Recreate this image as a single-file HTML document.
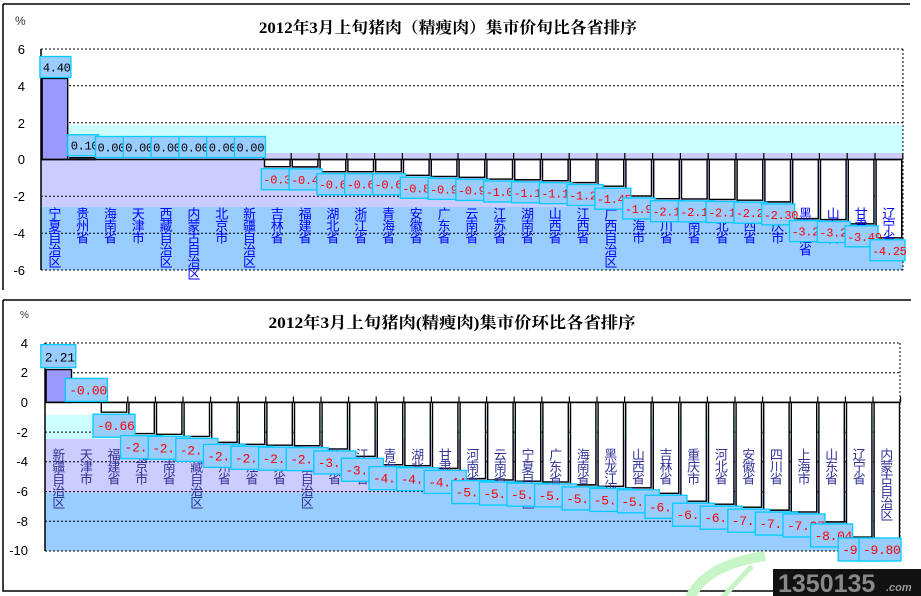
<!DOCTYPE html>
<html><head><meta charset="utf-8"><style>
body{margin:0;background:#fff;}
svg{display:block;}
.cat{font-family:"WenQuanYi Zen Hei","Noto Sans CJK SC",sans-serif;font-size:13px;writing-mode:tb;letter-spacing:-1px;}
.lb rect{fill:#99ccff;stroke:#00ccff;stroke-width:1.3;}
.lb text{font-family:"Liberation Mono",monospace;font-size:12px;letter-spacing:-0.3px;fill:#ff0000;}
.ax{font-family:"Liberation Sans",sans-serif;font-size:13px;text-anchor:end;}
.bar{fill:#fff;stroke:#000;stroke-width:1.4;}
</style></head><body>
<svg width="921" height="596" viewBox="0 0 921 596" xmlns="http://www.w3.org/2000/svg">
<path d="M3,4H910M3,4V290" stroke="#000" stroke-width="1.5" fill="none"/>
<path d="M3,300H911M3,300V591H911" stroke="#000" stroke-width="1.5" fill="none"/>

<text x="15" y="25" font-family="Liberation Sans,sans-serif" font-size="12" fill="#333">%</text>
<text x="448" y="33" text-anchor="middle" font-family="Liberation Serif,'Noto Serif CJK SC',serif" font-weight="bold" font-size="16" textLength="378" lengthAdjust="spacingAndGlyphs">2012年3月上旬猪肉（精瘦肉）集市价旬比各省排序</text>
<rect x="68" y="125" width="835" height="28" fill="#ccffff"/>
<rect x="41" y="153" width="862" height="54" fill="#ccccff"/>
<rect x="41" y="207" width="862" height="63" fill="#99ccff"/>
<g stroke="#000" stroke-dasharray="2,2" stroke-width="1">
<path d="M41,49H903M41,85.8H903M41,122.7H903M41,196.3H903M41,233.2H903M41,270H903M903,49V270"/>
</g>
<g class="ax"><text x="25" y="54">6</text><text x="25" y="91">4</text><text x="25" y="128">2</text><text x="25" y="164">0</text><text x="25" y="201">-2</text><text x="25" y="238">-4</text><text x="25" y="275">-6</text></g>
<g transform="translate(41,159.5) scale(27.8,18.42)">
<rect x="0.04" y="-4.4" width="0.92" height="4.4" fill="#9999ff" stroke="#000" stroke-width="1.4" vector-effect="non-scaling-stroke"/>
<rect x="1.04" y="-0.1" width="0.92" height="0.1" fill="#9999ff" stroke="#000" stroke-width="1.4" vector-effect="non-scaling-stroke"/>
<g class="bar">
<rect vector-effect="non-scaling-stroke" x="8.04" y="0" width="0.92" height="0.39"/>
<rect vector-effect="non-scaling-stroke" x="9.04" y="0" width="0.92" height="0.40"/>
<rect vector-effect="non-scaling-stroke" x="10.04" y="0" width="0.92" height="0.66"/>
<rect vector-effect="non-scaling-stroke" x="11.04" y="0" width="0.92" height="0.66"/>
<rect vector-effect="non-scaling-stroke" x="12.04" y="0" width="0.92" height="0.66"/>
<rect vector-effect="non-scaling-stroke" x="13.04" y="0" width="0.92" height="0.86"/>
<rect vector-effect="non-scaling-stroke" x="14.04" y="0" width="0.92" height="0.92"/>
<rect vector-effect="non-scaling-stroke" x="15.04" y="0" width="0.92" height="0.97"/>
<rect vector-effect="non-scaling-stroke" x="16.04" y="0" width="0.92" height="1.06"/>
<rect vector-effect="non-scaling-stroke" x="17.04" y="0" width="0.92" height="1.10"/>
<rect vector-effect="non-scaling-stroke" x="18.04" y="0" width="0.92" height="1.15"/>
<rect vector-effect="non-scaling-stroke" x="19.04" y="0" width="0.92" height="1.25"/>
<rect vector-effect="non-scaling-stroke" x="20.04" y="0" width="0.92" height="1.45"/>
<rect vector-effect="non-scaling-stroke" x="21.04" y="0" width="0.92" height="1.98"/>
<rect vector-effect="non-scaling-stroke" x="22.04" y="0" width="0.92" height="2.13"/>
<rect vector-effect="non-scaling-stroke" x="23.04" y="0" width="0.92" height="2.14"/>
<rect vector-effect="non-scaling-stroke" x="24.04" y="0" width="0.92" height="2.17"/>
<rect vector-effect="non-scaling-stroke" x="25.04" y="0" width="0.92" height="2.21"/>
<rect vector-effect="non-scaling-stroke" x="26.04" y="0" width="0.92" height="2.30"/>
<rect vector-effect="non-scaling-stroke" x="27.04" y="0" width="0.92" height="3.21"/>
<rect vector-effect="non-scaling-stroke" x="28.04" y="0" width="0.92" height="3.26"/>
<rect vector-effect="non-scaling-stroke" x="29.04" y="0" width="0.92" height="3.49"/>
<rect vector-effect="non-scaling-stroke" x="30.04" y="0" width="0.92" height="4.25"/>
</g>
<path vector-effect="non-scaling-stroke" stroke="#000" stroke-width="1.2" d="M8,0V-0.35M9,0V-0.35M10,0V-0.35M11,0V-0.35M12,0V-0.35M13,0V-0.35M14,0V-0.35M15,0V-0.35M16,0V-0.35M17,0V-0.35M18,0V-0.35M19,0V-0.35M20,0V-0.35M21,0V-0.35M22,0V-0.35M23,0V-0.35M24,0V-0.35M25,0V-0.35M26,0V-0.35M27,0V-0.35M28,0V-0.35M29,0V-0.35M30,0V-0.35M31,0V-0.35"/>
<path vector-effect="non-scaling-stroke" stroke="#000" stroke-width="1.5" d="M0,0H31M0,-6V6"/>
</g>
<g class="cat" fill="#0000ff">
<text x="54.9" y="207">宁夏自治区</text><text x="82.7" y="207">贵州省</text><text x="110.5" y="207">海南省</text><text x="138.3" y="207">天津市</text><text x="166.1" y="207">西藏自治区</text><text x="193.9" y="207">内蒙古自治区</text><text x="221.7" y="207">北京市</text><text x="249.5" y="207">新疆自治区</text><text x="277.3" y="207">吉林省</text><text x="305.1" y="207">福建省</text><text x="332.9" y="207">湖北省</text><text x="360.7" y="207">浙江省</text><text x="388.5" y="207">青海省</text><text x="416.3" y="207">安徽省</text><text x="444.1" y="207">广东省</text><text x="471.9" y="207">云南省</text><text x="499.7" y="207">江苏省</text><text x="527.5" y="207">湖南省</text><text x="555.3" y="207">山西省</text><text x="583.1" y="207">江西省</text><text x="610.9" y="207">广西自治区</text><text x="638.7" y="207">上海市</text><text x="666.5" y="207">四川省</text><text x="694.3" y="207">河南省</text><text x="722.1" y="207">河北省</text><text x="749.9" y="207">陕西省</text><text x="777.7" y="207">重庆市</text><text x="805.5" y="207">黑龙江省</text><text x="833.3" y="207">山东省</text><text x="861.1" y="207">甘肃省</text><text x="888.9" y="207">辽宁省</text>
</g>
<g class="lb">
<g transform="translate(54.9,78.5)"><rect x="-15" y="-22" width="31" height="21"/><text x="-12" y="-7" style="fill:#000">4.40</text></g>
<g transform="translate(82.7,157.7)"><rect x="-15" y="-23" width="31" height="21"/><text x="-12" y="-8" style="fill:#000">0.10</text></g>
<g transform="translate(110.5,159.5)"><rect x="-15" y="-23" width="29" height="21"/><text x="-13" y="-8" style="fill:#000">0.00</text></g>
<g transform="translate(138.3,159.5)"><rect x="-15" y="-23" width="29" height="21"/><text x="-13" y="-8" style="fill:#000">0.00</text></g>
<g transform="translate(166.1,159.5)"><rect x="-15" y="-23" width="29" height="21"/><text x="-13" y="-8" style="fill:#000">0.00</text></g>
<g transform="translate(193.9,159.5)"><rect x="-15" y="-23" width="29" height="21"/><text x="-13" y="-8" style="fill:#000">0.00</text></g>
<g transform="translate(221.7,159.5)"><rect x="-15" y="-23" width="29" height="21"/><text x="-13" y="-8" style="fill:#000">0.00</text></g>
<g transform="translate(249.5,159.5)"><rect x="-15" y="-23" width="31" height="21"/><text x="-13" y="-8" style="fill:#000">0.00</text></g>
<g transform="translate(277.3,166.7)"><rect x="-16" y="2" width="33" height="21"/><text x="-14" y="17">-0.39</text></g>
<g transform="translate(305.1,166.9)"><rect x="-16" y="2" width="33" height="21"/><text x="-14" y="17">-0.40</text></g>
<g transform="translate(332.9,171.7)"><rect x="-16" y="2" width="33" height="21"/><text x="-14" y="17">-0.66</text></g>
<g transform="translate(360.7,171.7)"><rect x="-16" y="2" width="33" height="21"/><text x="-14" y="17">-0.66</text></g>
<g transform="translate(388.5,171.7)"><rect x="-16" y="2" width="33" height="21"/><text x="-14" y="17">-0.66</text></g>
<g transform="translate(416.3,175.3)"><rect x="-16" y="2" width="33" height="21"/><text x="-14" y="17">-0.86</text></g>
<g transform="translate(444.1,176.4)"><rect x="-16" y="2" width="33" height="21"/><text x="-14" y="17">-0.92</text></g>
<g transform="translate(471.9,177.4)"><rect x="-16" y="2" width="33" height="21"/><text x="-14" y="17">-0.97</text></g>
<g transform="translate(499.7,179.0)"><rect x="-16" y="2" width="36" height="21"/><text x="-14" y="17">-1.06</text></g>
<g transform="translate(527.5,179.8)"><rect x="-16" y="2" width="33" height="21"/><text x="-14" y="17">-1.10</text></g>
<g transform="translate(555.3,180.7)"><rect x="-16" y="2" width="33" height="21"/><text x="-14" y="17">-1.15</text></g>
<g transform="translate(583.1,182.5)"><rect x="-16" y="2" width="36" height="21"/><text x="-14" y="17">-1.25</text></g>
<g transform="translate(610.9,186.2)"><rect x="-16" y="2" width="36" height="21"/><text x="-14" y="17">-1.45</text></g>
<g transform="translate(638.7,196.0)"><rect x="-16" y="2" width="33" height="21"/><text x="-14" y="17">-1.98</text></g>
<g transform="translate(666.5,198.7)"><rect x="-16" y="2" width="33" height="21"/><text x="-14" y="17">-2.13</text></g>
<g transform="translate(694.3,198.9)"><rect x="-16" y="2" width="36" height="21"/><text x="-14" y="17">-2.14</text></g>
<g transform="translate(722.1,199.5)"><rect x="-16" y="2" width="33" height="21"/><text x="-14" y="17">-2.17</text></g>
<g transform="translate(749.9,200.2)"><rect x="-16" y="2" width="33" height="21"/><text x="-14" y="17">-2.21</text></g>
<g transform="translate(777.7,201.9)"><rect x="-16" y="2" width="33" height="21"/><text x="-14" y="17">-2.30</text></g>
<g transform="translate(805.5,218.6)"><rect x="-16" y="2" width="33" height="21"/><text x="-14" y="17">-3.21</text></g>
<g transform="translate(833.3,219.5)"><rect x="-16" y="2" width="33" height="21"/><text x="-14" y="17">-3.26</text></g>
<g transform="translate(861.1,223.8)"><rect x="-16" y="2" width="33" height="21"/><text x="-14" y="17">-3.49</text></g>
<g transform="translate(886,237.8)"><rect x="-16" y="2" width="35" height="21"/><text x="-14" y="17">-4.25</text></g>
</g>

<text x="20" y="318" font-family="Liberation Sans,sans-serif" font-size="10" fill="#333">%</text>
<text x="452" y="328" text-anchor="middle" font-family="Liberation Serif,'Noto Serif CJK SC',serif" font-weight="bold" font-size="16" textLength="367" lengthAdjust="spacingAndGlyphs">2012年3月上旬猪肉(精瘦肉)集市价环比各省排序</text>
<rect x="45" y="415" width="855" height="24" fill="#ccffff"/>
<rect x="45" y="439" width="855" height="54" fill="#ccccff"/>
<rect x="45" y="493" width="855" height="58" fill="#99ccff"/>
<g stroke="#000" stroke-dasharray="2,2" stroke-width="1">
<path d="M45,343H900M45,372.7H900M45,432.1H900M45,461.8H900M45,491.6H900M45,521.3H900M45,551H900M900,343V551"/>
</g>
<g class="ax"><text x="28" y="348">4</text><text x="28" y="377">2</text><text x="28" y="407">0</text><text x="28" y="437">-2</text><text x="28" y="466">-4</text><text x="28" y="496">-6</text><text x="28" y="526">-8</text><text x="28" y="555">-10</text></g>
<g transform="translate(45,402.4) scale(27.6,14.86)">
<rect x="0.04" y="-2.21" width="0.92" height="2.21" fill="#9999ff" stroke="#000" stroke-width="1.4" vector-effect="non-scaling-stroke"/>
<g class="bar">
<rect vector-effect="non-scaling-stroke" x="2.04" y="0" width="0.92" height="0.66"/>
<rect vector-effect="non-scaling-stroke" x="3.04" y="0" width="0.92" height="2.10"/>
<rect vector-effect="non-scaling-stroke" x="4.04" y="0" width="0.92" height="2.15"/>
<rect vector-effect="non-scaling-stroke" x="5.04" y="0" width="0.92" height="2.29"/>
<rect vector-effect="non-scaling-stroke" x="6.04" y="0" width="0.92" height="2.69"/>
<rect vector-effect="non-scaling-stroke" x="7.04" y="0" width="0.92" height="2.82"/>
<rect vector-effect="non-scaling-stroke" x="8.04" y="0" width="0.92" height="2.88"/>
<rect vector-effect="non-scaling-stroke" x="9.04" y="0" width="0.92" height="2.91"/>
<rect vector-effect="non-scaling-stroke" x="10.04" y="0" width="0.92" height="3.13"/>
<rect vector-effect="non-scaling-stroke" x="11.04" y="0" width="0.92" height="3.63"/>
<rect vector-effect="non-scaling-stroke" x="12.04" y="0" width="0.92" height="4.19"/>
<rect vector-effect="non-scaling-stroke" x="13.04" y="0" width="0.92" height="4.26"/>
<rect vector-effect="non-scaling-stroke" x="14.04" y="0" width="0.92" height="4.44"/>
<rect vector-effect="non-scaling-stroke" x="15.04" y="0" width="0.92" height="5.13"/>
<rect vector-effect="non-scaling-stroke" x="16.04" y="0" width="0.92" height="5.22"/>
<rect vector-effect="non-scaling-stroke" x="17.04" y="0" width="0.92" height="5.30"/>
<rect vector-effect="non-scaling-stroke" x="18.04" y="0" width="0.92" height="5.35"/>
<rect vector-effect="non-scaling-stroke" x="19.04" y="0" width="0.92" height="5.55"/>
<rect vector-effect="non-scaling-stroke" x="20.04" y="0" width="0.92" height="5.65"/>
<rect vector-effect="non-scaling-stroke" x="21.04" y="0" width="0.92" height="5.75"/>
<rect vector-effect="non-scaling-stroke" x="22.04" y="0" width="0.92" height="6.12"/>
<rect vector-effect="non-scaling-stroke" x="23.04" y="0" width="0.92" height="6.65"/>
<rect vector-effect="non-scaling-stroke" x="24.04" y="0" width="0.92" height="6.85"/>
<rect vector-effect="non-scaling-stroke" x="25.04" y="0" width="0.92" height="7.05"/>
<rect vector-effect="non-scaling-stroke" x="26.04" y="0" width="0.92" height="7.25"/>
<rect vector-effect="non-scaling-stroke" x="27.04" y="0" width="0.92" height="7.37"/>
<rect vector-effect="non-scaling-stroke" x="28.04" y="0" width="0.92" height="8.04"/>
<rect vector-effect="non-scaling-stroke" x="29.04" y="0" width="0.92" height="9.06"/>
<rect vector-effect="non-scaling-stroke" x="30.04" y="0" width="0.92" height="9.80"/>
</g>
<path vector-effect="non-scaling-stroke" stroke="#000" stroke-width="1.2" d="M2,0V-0.4M3,0V-0.4M4,0V-0.4M5,0V-0.4M6,0V-0.4M7,0V-0.4M8,0V-0.4M9,0V-0.4M10,0V-0.4M11,0V-0.4M12,0V-0.4M13,0V-0.4M14,0V-0.4M15,0V-0.4M16,0V-0.4M17,0V-0.4M18,0V-0.4M19,0V-0.4M20,0V-0.4M21,0V-0.4M22,0V-0.4M23,0V-0.4M24,0V-0.4M25,0V-0.4M26,0V-0.4M27,0V-0.4M28,0V-0.4M29,0V-0.4M30,0V-0.4M31,0V-0.4"/>
<path vector-effect="non-scaling-stroke" stroke="#000" stroke-width="1.5" d="M0,0H31M0,-4V10"/>
</g>
<g class="cat" fill="#333399">
<text x="58.8" y="448">新疆自治区</text><text x="86.4" y="448">天津市</text><text x="114" y="448">福建省</text><text x="141.6" y="448">北京市</text><text x="169.2" y="448">湖南省</text><text x="196.8" y="448">西藏自治区</text><text x="224.4" y="448">贵州省</text><text x="252" y="448">浙江省</text><text x="279.6" y="448">江苏省</text><text x="307.2" y="448">广西自治区</text><text x="334.8" y="448">陕西省</text><text x="362.4" y="448">江西省</text><text x="390" y="448">青海省</text><text x="417.6" y="448">湖北省</text><text x="445.2" y="448">甘肃省</text><text x="472.8" y="448">河南省</text><text x="500.4" y="448">云南省</text><text x="528" y="448">宁夏自治区</text><text x="555.6" y="448">广东省</text><text x="583.2" y="448">海南省</text><text x="610.8" y="448">黑龙江省</text><text x="638.4" y="448">山西省</text><text x="666" y="448">吉林省</text><text x="693.6" y="448">重庆市</text><text x="721.2" y="448">河北省</text><text x="748.8" y="448">安徽省</text><text x="776.4" y="448">四川省</text><text x="804" y="448">上海市</text><text x="831.6" y="448">山东省</text><text x="859.2" y="448">辽宁省</text><text x="886.8" y="448">内蒙古自治区</text>
</g>
<g class="lb">
<g transform="translate(58.8,369.6)"><rect x="-18" y="-25" width="35" height="23"/><text x="-14" y="-8" style="fill:#000;font-size:13px">2.21</text></g>
<g transform="translate(86.4,402.4)"><rect x="-21" y="-24" width="42" height="23"/><text x="-17" y="-8" style="font-size:13px">-0.00</text></g>
<g transform="translate(114,412.2)"><rect x="-21" y="2" width="42" height="23"/><text x="-17" y="18" style="font-size:13px">-0.66</text></g>
<g transform="translate(141.6,433.6)"><rect x="-21" y="2" width="42" height="23"/><text x="-17" y="18" style="font-size:13px">-2.10</text></g>
<g transform="translate(169.2,434.3)"><rect x="-21" y="2" width="42" height="23"/><text x="-17" y="18" style="font-size:13px">-2.15</text></g>
<g transform="translate(196.8,436.4)"><rect x="-21" y="2" width="42" height="23"/><text x="-17" y="18" style="font-size:13px">-2.29</text></g>
<g transform="translate(224.4,442.4)"><rect x="-21" y="2" width="42" height="23"/><text x="-17" y="18" style="font-size:13px">-2.69</text></g>
<g transform="translate(252,444.3)"><rect x="-21" y="2" width="42" height="23"/><text x="-17" y="18" style="font-size:13px">-2.82</text></g>
<g transform="translate(279.6,445.2)"><rect x="-21" y="2" width="42" height="23"/><text x="-17" y="18" style="font-size:13px">-2.88</text></g>
<g transform="translate(307.2,445.6)"><rect x="-21" y="2" width="42" height="23"/><text x="-17" y="18" style="font-size:13px">-2.91</text></g>
<g transform="translate(334.8,448.9)"><rect x="-21" y="2" width="42" height="23"/><text x="-17" y="18" style="font-size:13px">-3.13</text></g>
<g transform="translate(362.4,456.3)"><rect x="-21" y="2" width="42" height="23"/><text x="-17" y="18" style="font-size:13px">-3.63</text></g>
<g transform="translate(390,464.7)"><rect x="-21" y="2" width="42" height="23"/><text x="-17" y="18" style="font-size:13px">-4.19</text></g>
<g transform="translate(417.6,465.7)"><rect x="-21" y="2" width="42" height="23"/><text x="-17" y="18" style="font-size:13px">-4.26</text></g>
<g transform="translate(445.2,468.4)"><rect x="-21" y="2" width="42" height="23"/><text x="-17" y="18" style="font-size:13px">-4.44</text></g>
<g transform="translate(472.8,478.6)"><rect x="-21" y="2" width="42" height="23"/><text x="-17" y="18" style="font-size:13px">-5.13</text></g>
<g transform="translate(500.4,480.0)"><rect x="-21" y="2" width="42" height="23"/><text x="-17" y="18" style="font-size:13px">-5.22</text></g>
<g transform="translate(528,481.2)"><rect x="-21" y="2" width="42" height="23"/><text x="-17" y="18" style="font-size:13px">-5.30</text></g>
<g transform="translate(555.6,481.9)"><rect x="-21" y="2" width="42" height="23"/><text x="-17" y="18" style="font-size:13px">-5.35</text></g>
<g transform="translate(583.2,484.9)"><rect x="-21" y="2" width="42" height="23"/><text x="-17" y="18" style="font-size:13px">-5.55</text></g>
<g transform="translate(610.8,486.4)"><rect x="-21" y="2" width="42" height="23"/><text x="-17" y="18" style="font-size:13px">-5.65</text></g>
<g transform="translate(638.4,487.8)"><rect x="-21" y="2" width="42" height="23"/><text x="-17" y="18" style="font-size:13px">-5.75</text></g>
<g transform="translate(666,493.3)"><rect x="-21" y="2" width="42" height="23"/><text x="-17" y="18" style="font-size:13px">-6.12</text></g>
<g transform="translate(693.6,501.2)"><rect x="-21" y="2" width="42" height="23"/><text x="-17" y="18" style="font-size:13px">-6.65</text></g>
<g transform="translate(721.2,504.2)"><rect x="-21" y="2" width="42" height="23"/><text x="-17" y="18" style="font-size:13px">-6.85</text></g>
<g transform="translate(748.8,507.2)"><rect x="-21" y="2" width="42" height="23"/><text x="-17" y="18" style="font-size:13px">-7.05</text></g>
<g transform="translate(776.4,510.1)"><rect x="-21" y="2" width="42" height="23"/><text x="-17" y="18" style="font-size:13px">-7.25</text></g>
<g transform="translate(804,511.9)"><rect x="-21" y="2" width="42" height="23"/><text x="-17" y="18" style="font-size:13px">-7.37</text></g>
<g transform="translate(831.6,521.9)"><rect x="-21" y="2" width="42" height="23"/><text x="-17" y="18" style="font-size:13px">-8.04</text></g>
<g transform="translate(859.2,536)"><rect x="-21" y="2" width="42" height="23"/><text x="-17" y="18" style="font-size:13px">-9.06</text></g>
<g transform="translate(880,536)"><rect x="-21" y="2" width="42" height="23"/><text x="-17" y="18" style="font-size:13px">-9.80</text></g>
</g>

<path d="M690,598 Q705,565 765,556" stroke="#c8f5c8" stroke-width="10" fill="none"/>
<path d="M722,598 L752,566" stroke="#c8f5c8" stroke-width="5" fill="none"/>
<rect x="773" y="569" width="148" height="27" fill="#111"/>
<text x="778" y="592" font-family="Liberation Sans,sans-serif" font-weight="bold" font-size="25" fill="#888">1350135</text>
<text x="886" y="591" font-family="Liberation Sans,sans-serif" font-weight="bold" font-style="italic" font-size="11" fill="#999">.com</text>
</svg>
</body></html>
